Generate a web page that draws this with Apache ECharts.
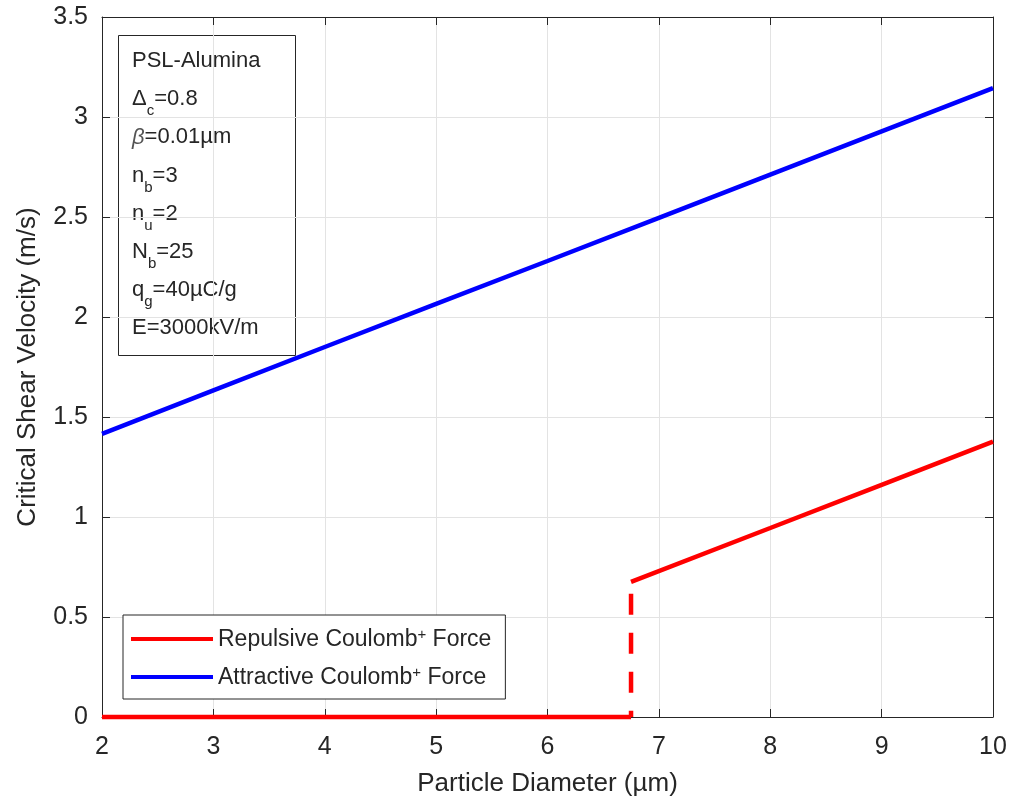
<!DOCTYPE html>
<html>
<head>
<meta charset="utf-8">
<script src="https://cdn.jsdelivr.net/npm/echarts@6/dist/echarts.min.js"></script>
<style>
  html, body { margin: 0; padding: 0; background: #ffffff; }
  #chart { width: 1012px; height: 802px; }
</style>
</head>
<body>
<div id="chart"></div>
<script>
// Critical shear velocity vs particle diameter, PSL on alumina
const FONT = '"Liberation Sans", Arial, Helvetica, sans-serif';
const INK = '#262626';

// Attractive Coulomb force curve
const attractiveX = [2, 3, 4, 5, 6, 7, 8, 9, 10];
const attractiveY = [1.416, 1.633, 1.85, 2.066, 2.28, 2.496, 2.712, 2.928, 3.144];

// Repulsive Coulomb force: zero branch, detachment jump, rising branch
const repulsiveLowX = [2, 6.75];
const repulsiveLowY = [0, 0];
const repulsiveJumpX = [6.75, 6.75];
const repulsiveJumpY = [0.676, 0];
const repulsiveHighX = [6.75, 8, 9, 10];
const repulsiveHighY = [0.676, 0.945, 1.161, 1.377];

const seriesNames = ['Repulsive Coulomb⁺ Force', 'Attractive Coulomb⁺ Force'];

// Parameter box lines: [main, subscript, rest]
const paramLines = [
  ['PSL-Alumina', '', ''],
  ['Δ', 'c', '=0.8'],
  ['β', '', '=0.01µm'],
  ['n', 'b', '=3'],
  ['n', 'u', '=2'],
  ['N', 'b', '=25'],
  ['q', 'g', '=40µC/g'],
  ['E=3000kV/m', '', '']
];

const zip = (xs, ys) => xs.map((x, i) => [x, ys[i]]);

const chart = echarts.init(document.getElementById('chart'), null, { renderer: 'canvas' });

// text measurement for laying out subscripts in the parameter box
const mctx = document.createElement('canvas').getContext('2d');
function textWidth(str, size, style) {
  mctx.font = (style || 'normal') + ' ' + size + 'px ' + FONT;
  return mctx.measureText(str).width;
}

const BOX = { x: 118, y: 35, w: 177, h: 320 };
const PF = 22, SF = 15, LINE_STEP = 38.2, FIRST_LINE = 61;
const boxChildren = [{
  type: 'rect',
  shape: { x: BOX.x + 0.5, y: BOX.y + 0.5, width: BOX.w, height: BOX.h },
  style: { fill: '#ffffff', stroke: INK, lineWidth: 1 }
}];
paramLines.forEach((ln, i) => {
  const cy = FIRST_LINE + i * LINE_STEP;
  let x = 132;
  const mainStyle = ln[0] === 'β' ? 'italic' : 'normal';
  boxChildren.push({ type: 'text', x: x, y: cy, style: {
    text: ln[0], font: mainStyle + ' ' + PF + 'px ' + FONT, fill: ln[0] === 'β' ? '#555' : INK, verticalAlign: 'middle' } });
  x += textWidth(ln[0], PF, mainStyle);
  if (ln[1]) {
    boxChildren.push({ type: 'text', x: x, y: cy + 12, style: {
      text: ln[1], font: SF + 'px ' + FONT, fill: INK, verticalAlign: 'middle' } });
    x += textWidth(ln[1], SF);
  }
  if (ln[2]) {
    boxChildren.push({ type: 'text', x: x, y: cy, style: {
      text: ln[2], font: PF + 'px ' + FONT, fill: INK, verticalAlign: 'middle' } });
  }
});

const axisCommon = {
  type: 'value',
  axisLine: { show: true, onZero: false, lineStyle: { color: INK, width: 1 } },
  axisTick: { show: true, inside: true, length: 8, lineStyle: { color: INK } }
};

const option = {
  backgroundColor: '#ffffff',
  animation: false,
  grid: { left: 102, right: 19, top: 17, bottom: 81, containLabel: false },
  xAxis: [
    Object.assign({}, axisCommon, {
      min: 2, max: 10, interval: 1, position: 'bottom',
      name: 'Particle Diameter (µm)', nameLocation: 'middle', nameGap: 54,
      nameTextStyle: { fontFamily: FONT, fontSize: 26, color: INK },
      axisLabel: { margin: 18, fontFamily: FONT, fontSize: 25, color: INK },
      splitLine: { show: true, lineStyle: { color: '#e3e3e3', width: 1 } }
    }),
    Object.assign({}, axisCommon, {
      min: 2, max: 10, interval: 1, position: 'top',
      axisLabel: { show: false }, splitLine: { show: false }
    })
  ],
  yAxis: [
    Object.assign({}, axisCommon, {
      min: 0, max: 3.5, interval: 0.5, position: 'left',
      name: 'Critical Shear Velocity (m/s)', nameLocation: 'middle', nameGap: 61,
      nameTextStyle: { fontFamily: FONT, fontSize: 26, color: INK },
      axisLabel: { margin: 14, fontFamily: FONT, fontSize: 25, color: INK },
      splitLine: { show: true, lineStyle: { color: '#e3e3e3', width: 1 } }
    }),
    Object.assign({}, axisCommon, {
      min: 0, max: 3.5, interval: 0.5, position: 'right',
      axisLabel: { show: false }, splitLine: { show: false }
    })
  ],
  legend: {
    data: seriesNames,
    orient: 'vertical',
    left: 123, top: 615,
    icon: 'rect', itemWidth: 82, itemHeight: 4, itemGap: 14,
    padding: [12, 14, 10, 8],
    borderColor: INK, borderWidth: 1, backgroundColor: '#ffffff',
    formatter: (name) => {
      const parts = name.split('⁺');
      return '{n|' + parts[0] + '}{sup|+}{n|' + parts[1] + '}';
    },
    textStyle: {
      fontFamily: FONT, fontSize: 23, color: INK,
      rich: {
        n: { fontFamily: FONT, fontSize: 23, color: INK, lineHeight: 24, verticalAlign: 'bottom' },
        sup: { fontFamily: FONT, fontSize: 15, color: INK, lineHeight: 12, verticalAlign: 'top' }
      }
    }
  },
  graphic: [{ type: 'group', z: 100, children: boxChildren }],
  series: [
    {
      name: seriesNames[0], type: 'line', clip: false, showSymbol: false, symbol: 'none',
      data: zip(repulsiveLowX, repulsiveLowY),
      lineStyle: { color: '#ff0000', width: 4.5 }, itemStyle: { color: '#ff0000' }, z: 3
    },
    {
      name: seriesNames[0], type: 'line', clip: false, showSymbol: false, symbol: 'none',
      data: zip(repulsiveHighX, repulsiveHighY),
      lineStyle: { color: '#ff0000', width: 4.5 }, itemStyle: { color: '#ff0000' }, z: 3
    },
    {
      name: 'jump', type: 'line', clip: false, showSymbol: false, symbol: 'none',
      data: zip(repulsiveJumpX, repulsiveJumpY),
      lineStyle: { color: '#ff0000', width: 4.5, type: [21, 18], dashOffset: 27, cap: 'butt' },
      itemStyle: { color: '#ff0000' }, z: 3
    },
    {
      name: seriesNames[1], type: 'line', clip: false, showSymbol: false, symbol: 'none',
      data: zip(attractiveX, attractiveY),
      lineStyle: { color: '#0000ff', width: 4.5 }, itemStyle: { color: '#0000ff' }, z: 3
    }
  ]
};

chart.setOption(option);
</script>
</body>
</html>
